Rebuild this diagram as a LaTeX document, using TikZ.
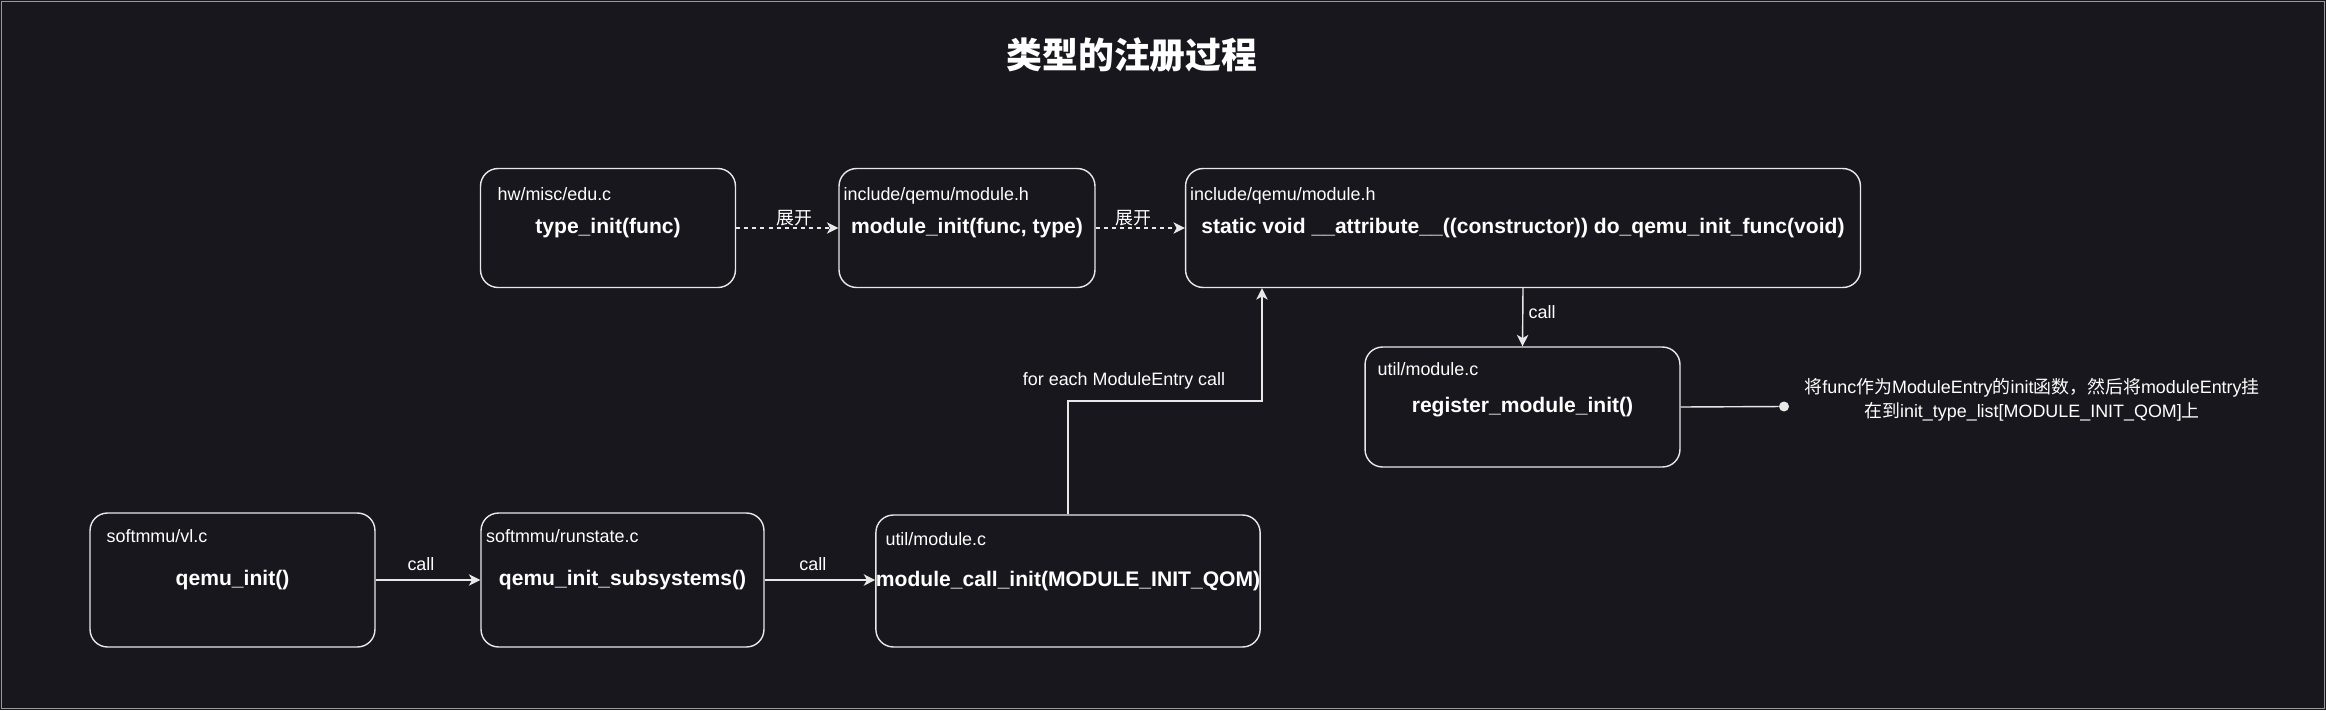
\documentclass[tikz,border=0pt]{standalone}
\usepackage{fontspec}
\setmainfont{Liberation Sans}
\newfontfamily\cjk{Noto Sans CJK SC}
\usetikzlibrary{arrows.meta, positioning, calc}

\definecolor{bgdark}{HTML}{18171D}
\definecolor{linec}{HTML}{E8E8E8}
\definecolor{framegray}{HTML}{9A9A9E}

\tikzset{
  fnbox/.style={draw=linec, line width=0.8pt, rounded corners=10pt, text=white,
    font=\fontsize{12}{14}\selectfont\bfseries, inner sep=0pt, text height=8.5pt, text depth=2.5pt},
  srcpath/.style={text=white, font=\fontsize{10.2}{12}\selectfont, anchor=west, inner sep=0pt,
    text height=7pt, text depth=2pt},
  edgelbl/.style={text=white, font=\fontsize{10.2}{12}\selectfont, inner sep=1pt},
  conn/.style={draw=linec, line width=0.8pt, -{Stealth[length=6.5pt,width=6.5pt,inset=1.8pt]}},
  dashconn/.style={conn, dash pattern=on 2.3pt off 2.3pt}
}

\begin{document}
\begin{tikzpicture}[x=0.02cm, y=-0.02cm]

\fill[bgdark] (0,0) rectangle (2326,710);
\useasboundingbox (0,0) rectangle (2326,710);
\draw[framegray, line width=0.9pt] (1.5,1.5) rectangle (2324.5,708.5);

\node[text=white, font=\cjk\fontsize{20.4}{24}\selectfont\bfseries] (title) at (1132,55) {类型的注册过程};

% top row
\node[fnbox, minimum width=5.1cm, minimum height=2.38cm] (edu) at (608,228) {type\_init(func)};
\node[fnbox, minimum width=5.12cm, minimum height=2.38cm] (modinit) at (967,228) {module\_init(func, type)};
\node[fnbox, minimum width=13.5cm, minimum height=2.38cm] (ctor) at (1523,228) {static void \_\_attribute\_\_((constructor)) do\_qemu\_init\_func(void)};
\node[srcpath] at ($(edu.north west)+(17.5,28)$) {hw/misc/edu.c};
\node[srcpath] at ($(modinit.north west)+(5,28)$) {include/qemu/module.h};
\node[srcpath] at ($(ctor.north west)+(5,28)$) {include/qemu/module.h};

% register
\node[fnbox, minimum width=6.3cm, minimum height=2.4cm] (reg) at (1522.5,407) {register\_module\_init()};
\node[srcpath] at ($(reg.north west)+(13,25)$) {util/module.c};
\node[circle, fill=linec, inner sep=0pt, minimum size=0.2cm] (dot) at (1784,406.5) {};
\node[text=white, font=\fontsize{10.2}{13.5}\selectfont, align=center] (note) at (2032,400)
  {{\cjk 将}func{\cjk 作为}ModuleEntry{\cjk 的}init{\cjk 函数，然后将}moduleEntry{\cjk 挂}\\
   {\cjk 在到}init\_type\_list[MODULE\_INIT\_QOM]{\cjk 上}};

% bottom row
\node[fnbox, minimum width=5.7cm, minimum height=2.68cm] (vl) at (232.5,580) {qemu\_init()};
\node[fnbox, minimum width=5.66cm, minimum height=2.68cm] (runstate) at (622.5,580) {qemu\_init\_subsystems()};
\node[fnbox, minimum width=7.64cm, minimum height=2.64cm] (callinit) at (1068,581) {module\_call\_init(MODULE\_INIT\_QOM)};
\node[srcpath] at ($(vl.north west)+(17,25.5)$) {softmmu/vl.c};
\node[srcpath] at ($(runstate.north west)+(5.5,25.5)$) {softmmu/runstate.c};
\node[srcpath] at ($(callinit.north west)+(10,26.5)$) {util/module.c};

% connectors
\draw[dashconn] (edu.east) -- (modinit.west) node[edgelbl, midway, above, xshift=4pt, font=\cjk\fontsize{10.2}{12}\selectfont] {展开};
\draw[dashconn] (modinit.east) -- (ctor.west) node[edgelbl, midway, above, xshift=-4pt, font=\cjk\fontsize{10.2}{12}\selectfont] {展开};
\draw[conn] (ctor.south) -- (reg.north) node[edgelbl, midway, right, yshift=3pt, xshift=2pt] {call};
\draw[draw=linec, line width=0.8pt] (reg.east) -- (dot);

\draw[conn] (vl.east) -- (runstate.west) node[edgelbl, midway, above=4pt, xshift=-4pt] {call};
\draw[conn] (runstate.east) -- (runstate.east -| callinit.west) node[edgelbl, midway, above=4pt, xshift=-4pt] {call};

\coordinate (turn) at (1262,401);
\draw[conn] (callinit.north) |- (turn) -- (turn |- ctor.south);
\node[edgelbl] (foreach) at (1124,381) {for each ModuleEntry call};

\end{tikzpicture}
\end{document}
